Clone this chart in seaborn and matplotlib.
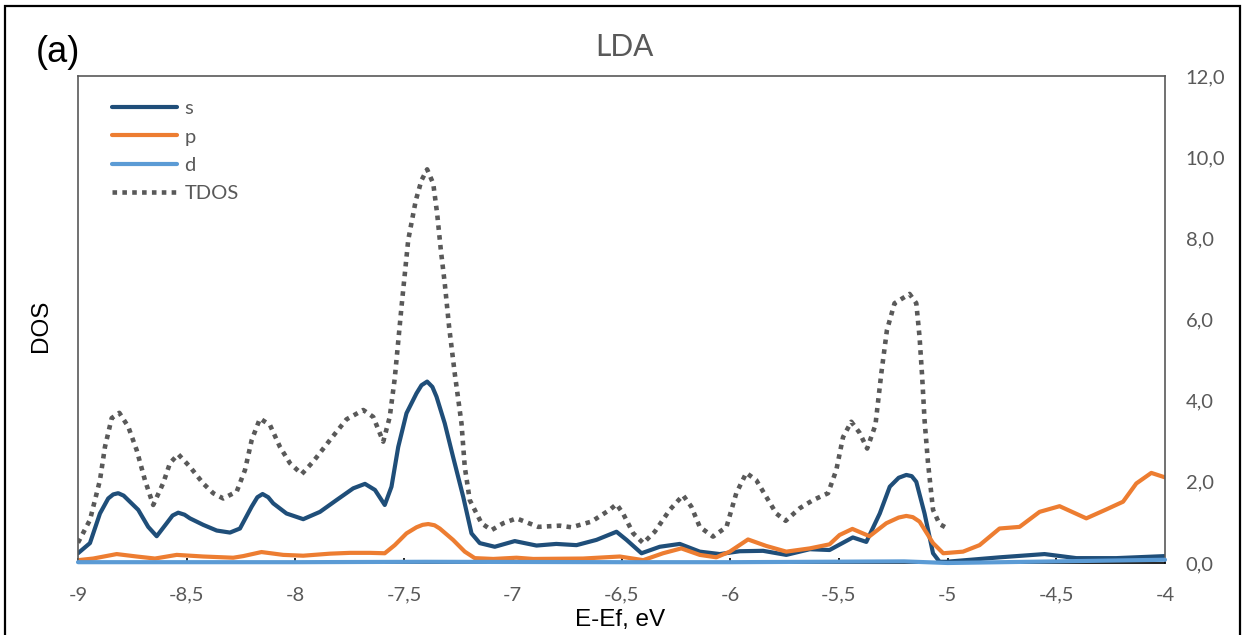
import matplotlib
matplotlib.use("Agg")
import matplotlib.pyplot as plt
import seaborn as sns
import pandas as pd
from matplotlib.patches import Rectangle
from matplotlib.lines import Line2D

# ---------------- data ----------------
tdos_e = [-9.0, -8.945, -8.899, -8.876, -8.845, -8.81, -8.769, -8.73, -8.692, -8.654,
          -8.608, -8.577, -8.539, -8.485, -8.424, -8.378, -8.332, -8.27, -8.232, -8.201,
          -8.163, -8.117, -8.071, -8.025, -7.971, -7.918, -7.841, -7.765, -7.688, -7.642,
          -7.596, -7.566, -7.543, -7.512, -7.481, -7.446, -7.42, -7.394, -7.366, -7.348,
          -7.331, -7.313, -7.293, -7.267, -7.236, -7.221, -7.198, -7.144, -7.098, -7.044,
          -6.983, -6.883, -6.784, -6.73, -6.638, -6.554, -6.523, -6.493, -6.446, -6.40,
          -6.347, -6.278, -6.217, -6.179, -6.14, -6.079, -6.017, -5.972, -5.926, -5.88,
          -5.834, -5.788, -5.745, -5.68, -5.619, -5.55, -5.512, -5.481, -5.443, -5.405,
          -5.370, -5.332, -5.305, -5.279, -5.244, -5.175, -5.144, -5.129, -5.117, -5.106,
          -5.09, -5.067, -5.037, -5.0]
tdos_v = [0.50, 1.06, 2.04, 2.86, 3.57, 3.70, 3.36, 2.78, 2.04, 1.43,
          1.97, 2.46, 2.68, 2.37, 1.96, 1.72, 1.59, 1.76, 2.29, 3.03,
          3.56, 3.40, 2.86, 2.46, 2.19, 2.50, 3.03, 3.54, 3.77, 3.60,
          2.99, 3.60, 4.55, 6.31, 7.96, 8.94, 9.43, 9.70, 9.35, 8.61,
          7.71, 6.89, 5.82, 4.67, 3.44, 2.37, 1.55, 0.98, 0.81, 0.98,
          1.10, 0.89, 0.92, 0.88, 1.02, 1.31, 1.45, 1.22, 0.73, 0.49,
          0.77, 1.31, 1.67, 1.39, 0.89, 0.65, 0.89, 1.72, 2.22, 2.04,
          1.63, 1.22, 1.04, 1.35, 1.55, 1.72, 2.29, 3.10, 3.48, 3.21,
          2.82, 3.40, 4.67, 5.74, 6.40, 6.63, 6.40, 5.57, 4.59, 3.52,
          2.46, 1.31, 0.96, 0.85]

s_e = [-9.0, -8.945, -8.899, -8.861, -8.838, -8.815, -8.79, -8.769, -8.723, -8.677,
       -8.638, -8.592, -8.565, -8.539, -8.51, -8.485, -8.424, -8.362, -8.301, -8.255,
       -8.201, -8.175, -8.151, -8.125, -8.102, -8.041, -7.964, -7.887, -7.811, -7.734,
       -7.68, -7.634, -7.589, -7.558, -7.527, -7.489, -7.443, -7.42, -7.394, -7.37,
       -7.351, -7.313, -7.275, -7.228, -7.19, -7.152, -7.083, -6.991, -6.891, -6.8,
       -6.707, -6.615, -6.523, -6.477, -6.408, -6.324, -6.232, -6.14, -6.048, -5.956,
       -5.849, -5.742, -5.634, -5.543, -5.436, -5.374, -5.312, -5.266, -5.225, -5.19,
       -5.165, -5.144, -5.106, -5.067, -5.037, -5.006, -4.76, -4.554, -4.408, -4.224, -4.0]
s_v = [0.24, 0.49, 1.22, 1.59, 1.69, 1.72, 1.66, 1.55, 1.31, 0.89,
       0.66, 0.98, 1.17, 1.24, 1.19, 1.10, 0.94, 0.80, 0.75, 0.85,
       1.39, 1.62, 1.70, 1.62, 1.47, 1.22, 1.08, 1.26, 1.55, 1.84,
       1.95, 1.80, 1.43, 1.88, 2.86, 3.69, 4.18, 4.38, 4.47, 4.34,
       4.10, 3.44, 2.62, 1.63, 0.73, 0.49, 0.40, 0.54, 0.43, 0.47,
       0.44, 0.57, 0.77, 0.57, 0.24, 0.40, 0.47, 0.28, 0.22, 0.29,
       0.30, 0.20, 0.34, 0.32, 0.63, 0.52, 1.22, 1.88, 2.10, 2.17,
       2.14, 2.00, 1.22, 0.24, 0.03, 0.03, 0.14, 0.22, 0.12, 0.12, 0.17]

p_e = [-9.0, -8.93, -8.822, -8.73, -8.646, -8.546, -8.424, -8.286, -8.24, -8.156,
       -8.056, -7.964, -7.841, -7.749, -7.657, -7.589, -7.543, -7.489, -7.443, -7.415,
       -7.389, -7.36, -7.336, -7.275, -7.221, -7.175, -7.09, -6.983, -6.906, -6.677,
       -6.508, -6.40, -6.309, -6.225, -6.14, -6.064, -6.002, -5.918, -5.834, -5.742,
       -5.634, -5.543, -5.497, -5.438, -5.359, -5.282, -5.225, -5.19, -5.16, -5.129,
       -5.067, -5.02, -4.929, -4.853, -4.761, -4.669, -4.577, -4.485, -4.362, -4.27,
       -4.193, -4.132, -4.063, -4.0]
p_v = [0.07, 0.11, 0.22, 0.16, 0.11, 0.20, 0.16, 0.13, 0.17, 0.27,
       0.20, 0.18, 0.23, 0.25, 0.25, 0.24, 0.44, 0.73, 0.88, 0.94,
       0.96, 0.93, 0.85, 0.57, 0.28, 0.12, 0.10, 0.13, 0.10, 0.11,
       0.16, 0.07, 0.24, 0.36, 0.20, 0.14, 0.28, 0.58, 0.42, 0.28,
       0.36, 0.46, 0.69, 0.84, 0.66, 0.98, 1.12, 1.16, 1.13, 1.02,
       0.49, 0.24, 0.28, 0.44, 0.85, 0.89, 1.26, 1.40, 1.10, 1.32,
       1.51, 1.96, 2.22, 2.11]

d_e = [-9.0, -8.0, -7.4, -6.5, -6.0, -5.2, -5.0, -4.5, -4.0]
d_v = [0.02, 0.02, 0.03, 0.02, 0.02, 0.04, 0.0, 0.04, 0.08]

x_ticks = [-9, -8.5, -8, -7.5, -7, -6.5, -6, -5.5, -5, -4.5, -4]
x_tick_labels = ["-9", "-8,5", "-8", "-7,5", "-7", "-6,5", "-6", "-5,5", "-5", "-4,5", "-4"]
y_ticks = [0, 2, 4, 6, 8, 10, 12]
y_tick_labels = ["0,0", "2,0", "4,0", "6,0", "8,0", "10,0", "12,0"]

series_names = ["s", "p", "d", "TDOS"]
colors = {"s": "#1F4E79", "p": "#ED7D31", "d": "#5B9BD5", "TDOS": "#595959"}

# ---------------- style ----------------
sns.set_theme(style="white")
plt.rcParams["font.family"] = ["Lato", "DejaVu Sans"]
GRAY = "#595959"
DOT = (0, (1.0, 1.15))
ARIAL = ["Liberation Sans", "DejaVu Sans"]

fig = plt.figure(figsize=(12.46, 6.35), dpi=100)
ax = fig.add_axes([78 / 1246, 72 / 635, (1165 - 78) / 1246, (563 - 76) / 635])

lw = 3.0
frames = {
    "s": pd.DataFrame({"E": s_e, "DOS": s_v}),
    "p": pd.DataFrame({"E": p_e, "DOS": p_v}),
    "d": pd.DataFrame({"E": d_e, "DOS": d_v}),
    "TDOS": pd.DataFrame({"E": tdos_e, "DOS": tdos_v}),
}
for name in series_names:
    width = 3.3 if name == "TDOS" else lw
    sns.lineplot(data=frames[name], x="E", y="DOS", color=colors[name], linewidth=width,
                 ax=ax, estimator=None, sort=False, legend=False)
    line = ax.lines[-1]
    line.set_solid_joinstyle("round")
    if name == "TDOS":
        line.set_linestyle(DOT)
        line.set_dash_capstyle("butt")
    else:
        line.set_solid_capstyle("round")
    if name == "d":
        line.set_zorder(3)
        line.set_clip_on(False)

ax.set_xlim(-9, -4)
ax.set_ylim(0, 12)
ax.set_xticks(x_ticks)
ax.set_xticklabels(x_tick_labels)
ax.set_yticks(y_ticks)
ax.set_yticklabels(y_tick_labels)
ax.yaxis.tick_right()
ax.tick_params(axis="y", length=0, pad=15, labelsize=14.5, labelcolor=GRAY)
ax.tick_params(axis="x", direction="in", length=3.5, width=1.2, color="black",
               pad=17, labelsize=14.5, labelcolor=GRAY, bottom=True)
ax.set_xlabel("")
ax.set_ylabel("")
for side in ["top", "left", "right"]:
    ax.spines[side].set_color(GRAY)
    ax.spines[side].set_linewidth(1.2)
ax.spines["bottom"].set_color("black")
ax.spines["bottom"].set_linewidth(1.2)
ax.grid(False)

handles = []
for name in series_names:
    if name == "TDOS":
        h = Line2D([], [], color=colors[name], linewidth=3.3, linestyle=DOT,
                   dash_capstyle="butt")
    else:
        h = Line2D([], [], color=colors[name], linewidth=lw, solid_capstyle="round")
    handles.append(h)
leg = ax.legend(handles, series_names, loc="upper left",
                bbox_to_anchor=(26 / 1087, 1 - 16 / 487), frameon=False,
                fontsize=14.5, handlelength=3.2, handletextpad=0.4,
                labelspacing=0.56, borderaxespad=0)
for t in leg.get_texts():
    t.set_color(GRAY)

# texts
fig.text(624 / 1246, 1 - 47 / 635, "LDA", ha="center", va="center",
         fontsize=21.5, color=GRAY)
fig.text(58 / 1246, 1 - 52 / 635, "(a)", ha="center", va="center",
         fontsize=26, color="black", family=ARIAL)
fig.text(41 / 1246, 1 - 326 / 635, "DOS", ha="center", va="center", rotation=90,
         fontsize=17.5, color="black", family=ARIAL)
fig.text(620 / 1246, 1 - 620 / 635, "E-Ef, eV", ha="center", va="center",
         fontsize=17.5, color="black", family=ARIAL)

# outer frame
fig.patches.append(Rectangle((5 / 1246, -0.1), (1240 - 5) / 1246, 0.1 + 1 - 6 / 635,
                             transform=fig.transFigure, fill=False, edgecolor="black",
                             linewidth=1.6, clip_on=False))

fig.savefig("out.png", dpi=100)
